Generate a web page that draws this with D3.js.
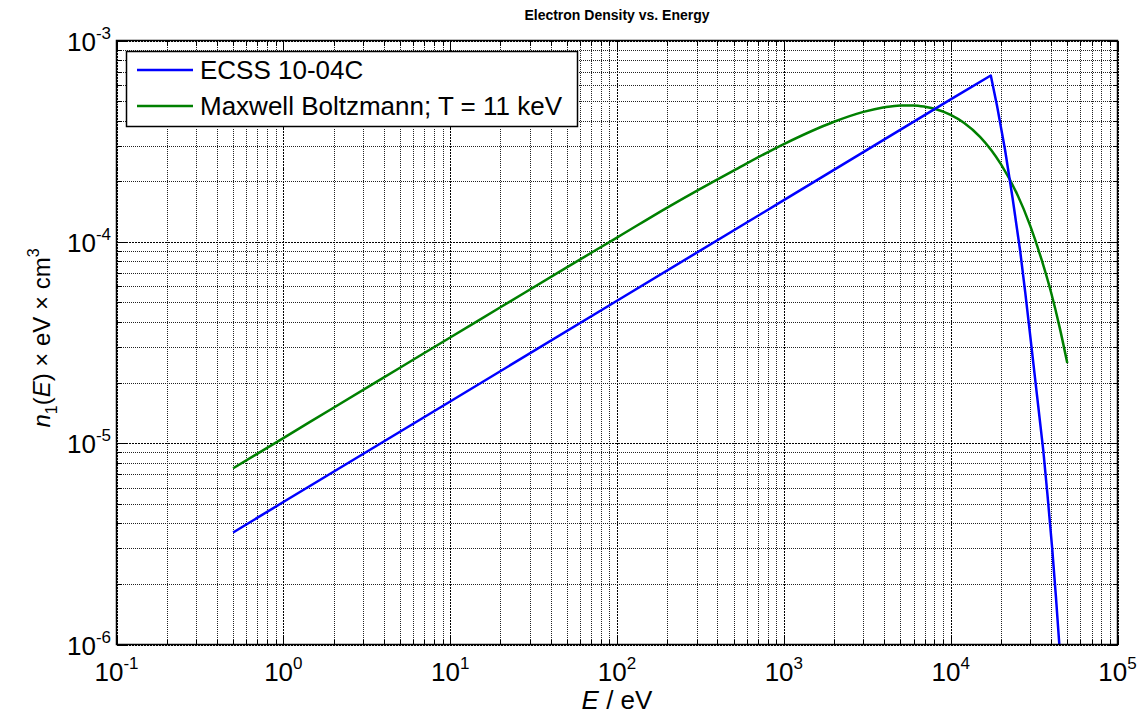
<!DOCTYPE html>
<html>
<head>
<meta charset="utf-8">
<script src="https://cdn.jsdelivr.net/npm/d3@7"></script>
<style>
  body { margin: 0; background: #fff; }
  svg { display: block; font-family: "Liberation Sans", Arial, sans-serif; }
</style>
</head>
<body>
<svg id="chart" width="1139" height="715"></svg>
<script>
// energy in eV, density in eV^-1 cm^-3
const ecssEnergy  = [0.5, 1, 10, 100, 1000, 10000, 17400, 19000, 21200, 23500, 26100, 28000, 30000,
                     33000, 35900, 38000, 40600, 42700, 44800, 47000];
const ecssDensity = [3.6e-6, 5.1e-6, 1.61e-5, 5.1e-5, 1.61e-4, 5.1e-4, 6.7e-4, 4.7e-4, 2.85e-4, 1.65e-4, 9.0e-5, 5.6e-5, 3.4e-5,
                     1.7e-5, 9.2e-6, 5.6e-6, 3.0e-6, 1.75e-6, 1.0e-6, 5.7e-7];

const mbEnergy  = [0.5, 1, 2, 5, 10, 20, 50, 100, 200, 500, 1000, 2000, 3000, 4000, 5000, 6000, 7000, 8000,
                   10000, 12000, 15000, 20000, 25000, 30000, 35000, 40000, 45000, 50000];
const mbDensity = [7.5e-6, 1.06e-5, 1.5e-5, 2.37e-5, 3.35e-5, 4.73e-5, 7.47e-5, 1.05e-4, 1.48e-4, 2.26e-4, 3.06e-4,
                   3.95e-4, 4.42e-4, 4.66e-4, 4.76e-4, 4.76e-4, 4.69e-4, 4.58e-4,
                   4.27e-4, 3.90e-4, 3.32e-4, 2.43e-4, 1.73e-4, 1.20e-4, 8.2e-5, 5.6e-5, 3.76e-5, 2.5e-5];

const xTickExps = [-1, 0, 1, 2, 3, 4, 5];
const yTickExps = [-6, -5, -4, -3];

const seriesNames = ['ECSS 10-04C', 'Maxwell Boltzmann; T = 11 keV'];
const seriesColors = ['#0000ff', '#008000'];

const svg = d3.select('#chart');
const plotLeft = 116.5, plotRight = 1117.5, plotTop = 40.5, plotBottom = 644.5;

const xScale = d3.scaleLog().domain([1e-1, 1e5]).range([plotLeft, plotRight]);
const yScale = d3.scaleLog().domain([1e-6, 1e-3]).range([plotBottom, plotTop]);

// minor tick values
const xMinor = [], yMinor = [];
xTickExps.slice(0, -1).forEach(e => { for (let m = 2; m <= 9; m++) xMinor.push(m * Math.pow(10, e)); });
yTickExps.slice(0, -1).forEach(e => { for (let m = 2; m <= 9; m++) yMinor.push(m * Math.pow(10, e)); });
const xMajor = xTickExps.map(e => Math.pow(10, e));
const yMajor = yTickExps.map(e => Math.pow(10, e));

// grid (dotted, MATLAB style)
const grid = svg.append('g').attr('shape-rendering', 'crispEdges');
grid.selectAll('.vx').data(xMinor.concat(xMajor)).enter().append('line')
    .attr('x1', d => Math.round(xScale(d)) + 0.5).attr('x2', d => Math.round(xScale(d)) + 0.5)
    .attr('y1', plotTop).attr('y2', plotBottom)
    .attr('stroke', d => xMajor.includes(d) ? '#000' : '#222')
    .attr('stroke-dasharray', d => xMajor.includes(d) ? '2,1' : '1,1');
grid.selectAll('.hy').data(yMinor.concat(yMajor)).enter().append('line')
    .attr('y1', d => Math.round(yScale(d)) + 0.5).attr('y2', d => Math.round(yScale(d)) + 0.5)
    .attr('x1', plotLeft).attr('x2', plotRight)
    .attr('stroke', d => yMajor.includes(d) ? '#000' : '#222')
    .attr('stroke-dasharray', d => yMajor.includes(d) ? '2,1' : '1,1');

// ticks on all four sides
const ticks = svg.append('g').attr('stroke', '#000').attr('shape-rendering', 'crispEdges');
xMinor.concat(xMajor).forEach(d => {
    const x = Math.round(xScale(d)) + 0.5;
    const len = xMajor.includes(d) ? 10 : 5;
    ticks.append('line').attr('x1', x).attr('x2', x).attr('y1', plotBottom).attr('y2', plotBottom - len);
    ticks.append('line').attr('x1', x).attr('x2', x).attr('y1', plotTop).attr('y2', plotTop + len);
});
yMinor.concat(yMajor).forEach(d => {
    const y = Math.round(yScale(d)) + 0.5;
    const len = yMajor.includes(d) ? 10 : 5;
    ticks.append('line').attr('y1', y).attr('y2', y).attr('x1', plotLeft).attr('x2', plotLeft + len);
    ticks.append('line').attr('y1', y).attr('y2', y).attr('x1', plotRight).attr('x2', plotRight - len);
});

// curves
svg.append('clipPath').attr('id', 'plotClip')
   .append('rect').attr('x', plotLeft).attr('y', plotTop)
   .attr('width', plotRight - plotLeft).attr('height', plotBottom - plotTop);

const lineLinear = d3.line().x(d => xScale(d[0])).y(d => yScale(d[1]));
const lineSmooth = d3.line().x(d => xScale(d[0])).y(d => yScale(d[1])).curve(d3.curveMonotoneX);

const curves = svg.append('g').attr('clip-path', 'url(#plotClip)').attr('fill', 'none').attr('stroke-width', 2.5);
curves.append('path')
      .datum(mbEnergy.map((e, i) => [e, mbDensity[i]]))
      .attr('stroke', seriesColors[1])
      .attr('d', lineSmooth);
curves.append('path')
      .datum(ecssEnergy.map((e, i) => [e, ecssDensity[i]]))
      .attr('stroke', seriesColors[0])
      .attr('stroke-linejoin', 'round')
      .attr('d', lineLinear);

// axes box
svg.append('rect')
   .attr('x', plotLeft).attr('y', plotTop)
   .attr('width', plotRight - plotLeft).attr('height', plotBottom - plotTop)
   .attr('fill', 'none').attr('stroke', '#000').attr('stroke-width', 1.5);

// tick labels
const powerLabel = (sel, exp) => {
    sel.append('tspan').text('10');
    sel.append('tspan').attr('dy', -12).style('font-size', '17px').text(exp);
};
xTickExps.forEach(e => {
    const t = svg.append('text')
        .attr('x', xScale(Math.pow(10, e)))
        .attr('y', 681)
        .attr('text-anchor', 'middle')
        .style('font-size', '26px');
    powerLabel(t, e);
});
yTickExps.forEach(e => {
    const t = svg.append('text')
        .attr('x', 111)
        .attr('y', yScale(Math.pow(10, e)) + 10)
        .attr('text-anchor', 'end')
        .style('font-size', '26px');
    powerLabel(t, e);
});

// title
svg.append('text')
   .attr('x', 617).attr('y', 20)
   .attr('text-anchor', 'middle')
   .style('font-size', '14px').style('font-weight', 'bold')
   .text('Electron Density vs. Energy');

// x label
const xl = svg.append('text')
   .attr('x', 617).attr('y', 709)
   .attr('text-anchor', 'middle')
   .style('font-size', '26px');
xl.append('tspan').style('font-style', 'italic').text('E');
xl.append('tspan').text(' / eV');

// y label
const yl = svg.append('text')
   .attr('transform', 'translate(50, 338) rotate(-90)')
   .attr('text-anchor', 'middle')
   .style('font-size', '24px');
yl.append('tspan').style('font-style', 'italic').text('n');
yl.append('tspan').attr('dy', 7).style('font-size', '16px').text('1');
yl.append('tspan').attr('dy', -7).text('(');
yl.append('tspan').style('font-style', 'italic').text('E');
yl.append('tspan').text(') \u00d7 eV \u00d7 cm');
yl.append('tspan').attr('dy', -11).style('font-size', '16px').text('3');

// legend
const legend = svg.append('g');
legend.append('rect')
      .attr('x', 126.5).attr('y', 51.5).attr('width', 451).attr('height', 75)
      .attr('fill', '#fff').attr('stroke', '#000').attr('stroke-width', 1.5);
seriesNames.forEach((name, i) => {
    const y = 70 + i * 36;
    legend.append('line')
          .attr('x1', 137).attr('x2', 193).attr('y1', y).attr('y2', y)
          .attr('stroke', seriesColors[i]).attr('stroke-width', 2.5);
    legend.append('text')
          .attr('x', 200).attr('y', y + 9)
          .style('font-size', '26px')
          .text(name);
});
</script>
</body>
</html>
